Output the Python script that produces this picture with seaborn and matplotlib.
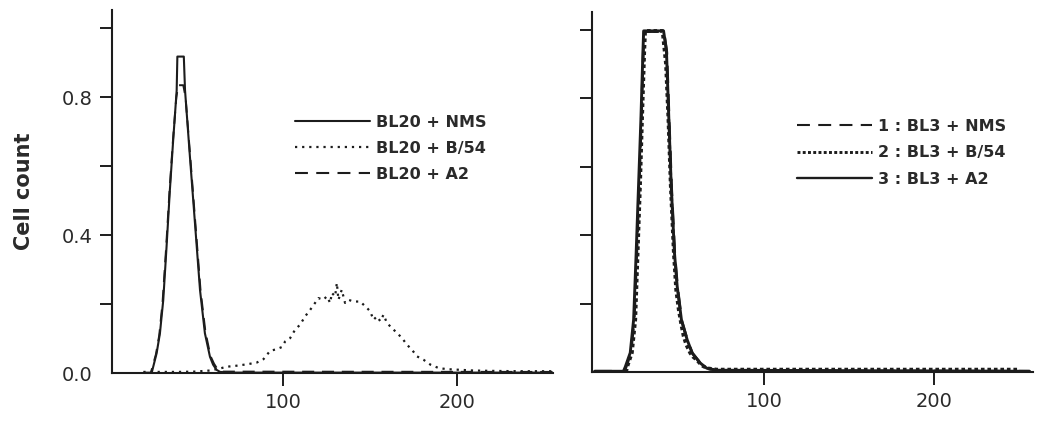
import numpy as np
import pandas as pd
import matplotlib
matplotlib.use("Agg")
import matplotlib.pyplot as plt
from matplotlib.lines import Line2D
import seaborn as sns

# ---------------- data ----------------
# Left panel: BL20
l_nms_x = [20, 24.7, 27.6, 29.5, 31.4, 33.3, 35.2, 37.1, 39.1, 39.5, 43.2, 43.9, 46.7, 49.6,
           52.5, 55.3, 58.2, 60, 62, 64, 70, 255]
l_nms_y = [0.0, 0.0, 0.058, 0.116, 0.212, 0.367, 0.531, 0.676, 0.82, 0.918, 0.918, 0.82, 0.628,
           0.435, 0.241, 0.116, 0.048, 0.025, 0.01, 0.004, 0.002, 0.002]

l_a2_x = [20, 24.3, 27.2, 29.1, 31.0, 33.0, 34.9, 36.9, 38.9, 40.0, 42.9, 44.2, 47.0, 49.9,
          52.8, 55.6, 58.5, 60.5, 62.5, 65, 255]
l_a2_y = [0.002, 0.002, 0.055, 0.11, 0.205, 0.36, 0.52, 0.67, 0.80, 0.835, 0.835, 0.80, 0.62,
          0.43, 0.24, 0.12, 0.05, 0.028, 0.012, 0.005, 0.004]

l_b54_x = [20, 30, 40, 50, 58, 63.9, 67.8, 73.5, 79.3, 85, 88.9, 92.7, 96.5, 99.4, 101.3, 104.2,
           107, 109.9, 112.8, 115.7, 118.5, 120.4, 123.3, 125.2, 127.2, 128.1, 130, 131, 131.9,
           133.8, 135.7, 137.7, 140.5, 144.4, 147.3, 150.1, 152, 154, 155.9, 157.8, 159.7, 162.6,
           165.5, 168.4, 171.2, 174.1, 177, 180.8, 184.7, 189.5, 194.3, 202, 209.6, 220, 235, 255]
l_b54_y = [0.004, 0.004, 0.004, 0.005, 0.008, 0.014, 0.019, 0.022, 0.026, 0.031, 0.041, 0.065,
           0.07, 0.076, 0.092, 0.102, 0.126, 0.141, 0.165, 0.184, 0.204, 0.218, 0.213, 0.223,
           0.204, 0.233, 0.223, 0.262, 0.213, 0.242, 0.204, 0.213, 0.208, 0.208, 0.194, 0.18,
           0.155, 0.165, 0.151, 0.17, 0.146, 0.131, 0.117, 0.102, 0.083, 0.068, 0.049, 0.039,
           0.025, 0.015, 0.012, 0.01, 0.008, 0.007, 0.006, 0.006]

# Right panel: BL3
r_nms_x = [0, 17.5, 18.5, 21.3, 23.3, 24.8, 26.2, 27.5, 28.7, 29.2, 40.8, 42.5, 43.9, 45.3,
           47.2, 48.8, 51.3, 54.7, 57.6, 62.4, 66, 72, 256]
r_nms_y = [0.003, 0.003, 0.015, 0.055, 0.15, 0.345, 0.54, 0.735, 0.935, 0.995, 0.995, 0.935,
           0.735, 0.54, 0.345, 0.25, 0.15, 0.093, 0.055, 0.026, 0.012, 0.005, 0.003]

r_a2_x = [0, 17.0, 18.1, 21.0, 23.0, 24.5, 25.9, 27.3, 28.5, 28.9, 40.6, 42.3, 43.7, 45.1,
          47.0, 48.6, 51.1, 54.5, 57.4, 62.2, 66, 72, 256]
r_a2_y = [0.003, 0.003, 0.016, 0.057, 0.154, 0.35, 0.546, 0.742, 0.94, 0.997, 0.997, 0.94,
          0.742, 0.546, 0.35, 0.252, 0.154, 0.095, 0.057, 0.027, 0.012, 0.006, 0.003]

r_b54_x = [18.5, 19.5, 22, 24, 25.4, 26.8, 28, 29.3, 29.8, 40, 42, 43.4, 44.8, 46.6, 48, 49.5,
           51, 52.4, 54, 56.3, 58, 60.2, 63, 66.1, 72, 100, 150, 200, 249]
r_b54_y = [0.0, 0.02, 0.057, 0.154, 0.35, 0.546, 0.742, 0.94, 0.997, 0.997, 0.9, 0.742, 0.546,
           0.35, 0.24, 0.183, 0.14, 0.105, 0.08, 0.056, 0.045, 0.036, 0.02, 0.012, 0.008,
           0.008, 0.008, 0.008, 0.008]

left_labels = ["BL20 + NMS", "BL20 + B/54", "BL20 + A2"]
right_labels = ["1 : BL3 + NMS", "2 : BL3 + B/54", "3 : BL3 + A2"]

y_ticks = [0.0, 0.2, 0.4, 0.6, 0.8, 1.0]
y_ticklabels = ["0.0", "", "0.4", "", "0.8", ""]
x_ticks = [100, 200]
x_ticklabels = ["100", "200"]
y_label = "Cell count"

# ---------------- styling ----------------
sns.set_theme(style="white")
plt.rcParams["font.family"] = ["DejaVu Sans"]

INK = "#1c1c1c"
W, H = 1041, 425
fig = plt.figure(figsize=(W / 100, H / 100), dpi=100)

def px_axes(x0, x1, ytop, ybot):
    return fig.add_axes([x0 / W, 1 - ybot / H, (x1 - x0) / W, (ybot - ytop) / H])

axL = px_axes(112, 553, 10, 373.3)
axR = px_axes(592, 1033, 11.7, 372.3)

SOLID = "-"
DOT_L = (0, (1, 2.2))
DASH = (0, (6.2, 4.0))
DOT_R = (0, (1, 0.8))

def draw(ax, xs, ys, lw, ls, z):
    df = pd.DataFrame({"x": xs, "y": ys})
    sns.lineplot(data=df, x="x", y="y", ax=ax, color=INK, linewidth=lw, linestyle=ls,
                 estimator=None, sort=False, zorder=z)

# Left panel
draw(axL, l_b54_x, l_b54_y, 1.6, DOT_L, 2)
draw(axL, l_a2_x, l_a2_y, 1.4, DASH, 3)
draw(axL, l_nms_x, l_nms_y, 1.5, SOLID, 4)

# Right panel
draw(axR, r_nms_x, r_nms_y, 2.0, DASH, 2)
draw(axR, r_b54_x, r_b54_y, 2.6, DOT_R, 3)
draw(axR, r_a2_x, r_a2_y, 2.1, SOLID, 4)

for ax, xlim in ((axL, (2, 255)), (axR, (-1.5, 258))):
    ax.set_xlim(*xlim)
    ax.set_ylim(0, 1.053)
    ax.set_facecolor("white")
    for s in ("top", "right"):
        ax.spines[s].set_visible(False)
    for s in ("left", "bottom"):
        ax.spines[s].set_color(INK)
        ax.spines[s].set_linewidth(1.5)
    ax.set_xticks(x_ticks)
    ax.set_xticklabels(x_ticklabels)
    ax.set_yticks(y_ticks)
    ax.tick_params(axis="both", which="major", direction="out", length=9, width=1.4,
                   color=INK, labelsize=14, labelcolor="#2a2a2a", pad=5,
                   left=True, bottom=True, top=False, right=False)
    ax.yaxis.get_major_ticks()[0].tick1line.set_visible(False)
    ax.set_xlabel("")
    ax.set_ylabel("")

axL.set_yticklabels(y_ticklabels)
axR.set_yticklabels([""] * len(y_ticks))
axL.set_ylabel(y_label, fontsize=15, fontweight="bold", color="#2a2a2a", labelpad=20)

legend_font = {"family": "DejaVu Sans", "weight": "bold", "size": 11.5}

hL = [Line2D([], [], color=INK, lw=1.5, linestyle=SOLID),
      Line2D([], [], color=INK, lw=1.6, linestyle=DOT_L),
      Line2D([], [], color=INK, lw=1.5, linestyle=DASH)]
legL = axL.legend(hL, left_labels, loc="upper left",
                  bbox_to_anchor=(295 / W, 1 - 115 / H), bbox_transform=fig.transFigure,
                  frameon=False, prop=legend_font, handlelength=4.7, handletextpad=0.35,
                  labelspacing=0.69, borderpad=0, borderaxespad=0)
for t in legL.get_texts():
    t.set_color("#2a2a2a")

hR = [Line2D([], [], color=INK, lw=1.5, linestyle=DASH),
      Line2D([], [], color=INK, lw=2.1, linestyle=DOT_R),
      Line2D([], [], color=INK, lw=1.7, linestyle=SOLID)]
legR = axR.legend(hR, right_labels, loc="upper left",
                  bbox_to_anchor=(797 / W, 1 - 119 / H), bbox_transform=fig.transFigure,
                  frameon=False, prop=legend_font, handlelength=4.7, handletextpad=0.4,
                  labelspacing=0.72, borderpad=0, borderaxespad=0)
for t in legR.get_texts():
    t.set_color("#2a2a2a")

fig.savefig("out.png", dpi=100, facecolor="white")
